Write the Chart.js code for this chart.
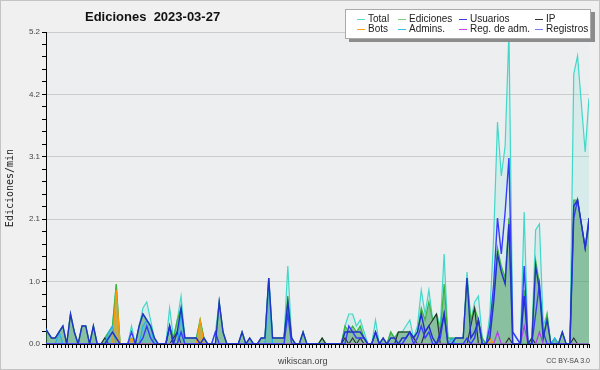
<!DOCTYPE html>
<html>
<head>
<meta charset="utf-8">
<script src="https://cdn.jsdelivr.net/npm/chart.js@4.4.0/dist/chart.umd.min.js"></script>
<style>
  html, body { margin: 0; padding: 0; background: #f0f0f0; }
  #wrap { position: relative; width: 600px; height: 370px; background: #f0f0f0; font-family: 'Liberation Sans', Arial, sans-serif; }
  #wrap canvas { position: absolute; left: 0; top: 0; }
  #marco { position: absolute; left: 0; top: 0; width: 598px; height: 368px; border: 1px solid #c4c4c4; pointer-events: none; }
  #titulo { position: absolute; left: 85px; top: 10px; font: bold 13px/13px 'Liberation Sans', Arial, sans-serif; color: #111; white-space: pre; }
  #leyenda { position: absolute; left: 345px; top: 9px; width: 244px; height: 28px; background: #fff; border: 1px solid #aaa; box-shadow: 4px 3px 0 #8c8c8c; }
  .item { position: absolute; font-size: 10px; line-height: 10px; color: #222; white-space: nowrap; }
  .item i { position: absolute; left: -11px; top: 5px; width: 8px; height: 1px; }
  #web { position: absolute; left: 278px; top: 356px; font-size: 9px; line-height: 10px; color: #444; }
  #cc { position: absolute; right: 10px; top: 357px; font-size: 7px; line-height: 8px; color: #444; }
</style>
</head>
<body>
<div id="wrap">
  <canvas id="grafico" width="600" height="370"></canvas>
  <div id="titulo">Ediciones  2023-03-27</div>
  <div id="leyenda"></div>
  <div id="web">wikiscan.org</div>
  <div id="cc">CC BY-SA 3.0</div>
  <div id="marco"></div>
</div>
<script>
// Ediciones por minuto, tramos de 10 minutos (una fila por hora)
const total = [
  0.3,0.3,0.2,0.1,0.1,0.2,  0.3,0,0.5,0.2,0,0.3,  0.3,0,0.3,0,0,0.1,  0.2,0.3,1.0,0,0,0,
  0.3,0,0.3,0.6,0.7,0.4,  0.1,0,0,0,0.6,0.1,  0.4,0.8,0.1,0.1,0.1,0.1,  0.4,0.1,0,0,0.2,0.7,
  0.2,0,0,0,0,0.2,  0,0.1,0,0,0.1,0.1,  1.1,0.1,0.1,0.1,0.1,1.3,  0.1,0,0,0.2,0,0,
  0,0,0.1,0,0,0,  0,0,0.3,0.5,0.5,0.3,  0.4,0.2,0,0,0.4,0,  0.1,0,0.2,0.1,0.2,0.2,
  0.3,0.4,0.1,0.3,0.9,0.5,  0.9,0.4,0.5,0.3,1.5,0.1,  0.1,0.1,0.1,0.1,1.2,0.4,  0.7,0.8,0.1,0,0.5,1.8,
  3.7,2.8,3.3,5.2,0.2,0.1,  0,2.2,0,0.1,1.9,2.0,  0.3,0.5,0,0.1,0,0.2,  0,0,4.5,4.8,4.0,3.2,
  4.1
];
const ediciones = [
  0.3,0.3,0.2,0.1,0.1,0.2,  0.3,0,0.5,0.2,0,0.3,  0.3,0,0.3,0,0,0.1,  0.2,0.3,1.0,0,0,0,
  0.1,0,0.3,0.5,0.4,0.3,  0.1,0,0,0,0.3,0.1,  0.4,0.6,0.1,0.1,0.1,0.1,  0.4,0.1,0,0,0,0.7,
  0.2,0,0,0,0,0.2,  0,0.1,0,0,0.1,0.1,  1.1,0.1,0.1,0.1,0.1,0.8,  0.1,0,0,0.2,0,0,
  0,0,0.1,0,0,0,  0,0,0.3,0.2,0.3,0.2,  0.3,0.1,0,0,0.2,0,  0.1,0,0.2,0.1,0.2,0.2,
  0.2,0.2,0.1,0.2,0.6,0.4,  0.7,0.4,0.5,0.2,1.0,0.1,  0.1,0.1,0.1,0.1,1.1,0.4,  0.6,0.4,0.1,0,0.2,0.8,
  1.6,1.3,1.1,2.1,0,0,  0,0.9,0,0.1,1.4,1.0,  0.1,0.5,0,0.1,0,0.2,  0,0,2.4,2.4,2.0,1.6,
  2.1
];
const usuarios = [
  0.3,0.3,0.2,0.1,0.1,0.2,  0.3,0,0.5,0.2,0,0.3,  0.3,0,0.3,0,0,0,  0.1,0.2,0.1,0,0,0,
  0,0,0.3,0.5,0.4,0.3,  0.1,0,0,0,0.3,0,  0.2,0.6,0.1,0.1,0.1,0.1,  0,0.1,0,0,0,0.7,
  0.2,0,0,0,0,0.2,  0,0.1,0,0,0.1,0.1,  1.1,0.1,0.1,0.1,0.1,0.7,  0.1,0,0,0.2,0,0,
  0,0,0,0,0,0,  0,0,0.2,0.2,0.2,0.2,  0.2,0.1,0,0,0.2,0,  0.1,0,0.1,0.1,0,0.1,
  0.1,0.2,0.1,0.2,0.5,0.2,  0.3,0.1,0,0.2,0.5,0,  0,0.1,0.1,0.1,1.1,0.1,  0.2,0.4,0,0,0.1,0.7,
  1.5,1.2,1.0,2.0,0,0,  0,0.8,0,0,1.3,0.9,  0.1,0.4,0,0,0,0.2,  0,0,2.3,2.4,2.0,1.6,
  2.1
];
const ip = [
  0,0,0,0,0,0,  0,0,0,0,0,0,  0,0,0,0,0,0.1,  0,0,0,0,0,0,
  0,0,0,0,0,0,  0,0,0,0,0,0.1,  0.2,0,0,0,0,0,  0,0,0,0,0,0,
  0,0,0,0,0,0,  0,0,0,0,0,0,  0,0,0,0,0,0,  0,0,0,0,0,0,
  0,0,0.1,0,0,0,  0,0,0.1,0,0.1,0,  0.1,0,0,0,0,0,  0,0,0,0,0.2,0.2,
  0.2,0.2,0.1,0,0,0.2,  0.3,0.4,0.5,0,0,0,  0,0,0,0,0,0.3,  0.6,0,0,0,0,0,
  0,0,0,0.1,0,0,  0,0,0,0.1,0,0,  0,0,0,0,0,0,  0,0,0.1,0,0,0,
  0
];
const bots = [
  0,0,0,0,0,0,  0,0,0,0,0,0,  0,0,0,0,0,0,  0,0,0.9,0,0,0,
  0.1,0,0,0,0,0,  0,0,0,0,0,0,  0,0,0,0,0,0,  0.4,0,0,0,0,0,
  0,0,0,0,0,0,  0,0,0,0,0,0,  0,0,0,0,0,0,  0,0,0,0,0,0,
  0,0,0,0,0,0,  0,0,0,0,0,0,  0,0,0,0,0,0,  0,0,0,0,0,0,
  0,0,0,0,0,0,  0,0,0,0,0,0,  0,0,0,0,0,0,  0,0,0,0,0.1,0,
  0,0,0,0,0,0,  0,0,0,0,0,0,  0,0,0,0,0,0,  0,0,0,0,0,0,
  0
];
const admins = [
  0,0,0,0,0,0.2,  0,0,0,0,0,0,  0,0,0,0,0,0,  0.2,0.3,0,0,0,0,
  0,0,0,0.3,0.4,0.3,  0,0,0,0,0,0,  0,0.5,0,0,0,0,  0,0,0,0,0,0,
  0,0,0,0,0,0,  0,0,0,0,0,0,  1.0,0,0,0,0,0,  0,0,0,0,0,0,
  0,0,0,0,0,0,  0,0,0,0,0,0,  0,0,0,0,0,0,  0,0,0,0,0,0,
  0,0,0,0,0,0,  0,0,0,0,0,0,  0.1,0,0,0,0,0,  0,0,0,0,0,0,
  0,0,0,0,0,0,  0,0,0,0,0,0,  0,0,0,0.1,0,0,  0,0,0,0,0,0,
  0
];
const regAdm = [
  0,0,0,0,0,0,  0,0,0,0,0,0,  0,0,0,0,0,0,  0,0,0,0,0,0,
  0,0,0,0,0,0,  0,0,0,0,0,0,  0,0,0,0,0,0,  0,0,0,0,0,0,
  0,0,0,0,0,0,  0,0,0,0,0,0,  0,0,0,0,0,0,  0,0,0,0,0,0,
  0,0,0,0,0,0,  0,0,0,0,0,0,  0,0,0,0,0,0,  0,0,0,0,0,0,
  0,0,0,0,0,0,  0,0,0,0,0,0,  0,0,0,0,0,0,  0,0,0,0,0,0,
  0.2,0,0,0,0,0,  0,0.3,0,0,0,0.2,  0,0,0,0,0,0,  0,0,0,0,0,0,
  0
];
const registros = [
  0,0,0,0,0,0,  0,0,0,0,0,0,  0,0,0,0,0,0,  0,0,0,0,0,0,
  0.2,0,0,0.1,0.3,0.1,  0,0,0,0,0.3,0,  0,0.2,0,0,0,0,  0,0,0,0,0.2,0,
  0,0,0,0,0,0,  0,0,0,0,0,0,  0,0,0,0,0,0.5,  0,0,0,0,0,0,
  0,0,0,0,0,0,  0,0,0,0.3,0.2,0.1,  0.1,0.1,0,0,0.2,0,  0,0,0,0,0,0,
  0.1,0.2,0,0.1,0.3,0.1,  0.2,0,0,0.1,0.5,0,  0,0,0,0,0.1,0,  0.1,0.4,0,0,0.3,1.0,
  2.1,1.5,2.2,3.1,0.2,0.1,  0,1.3,0,0,0.5,1.0,  0.2,0,0,0,0,0,  0,0,2.1,2.4,2.0,1.6,
  2.0
];

const leyenda = [
  ['Total', '#5ad8cc'], ['Ediciones', '#7ccc7c'], ['Usuarios', '#3c3ce6'], ['IP', '#333333'],
  ['Bots', '#ffa31a'], ['Admins.', '#2cc4e4'], ['Reg. de adm.', '#d040e8'], ['Registros', '#7a7aff']
];
const columnas = [22, 63, 124, 200];

const caja = document.getElementById('leyenda');
leyenda.forEach(function (l, k) {
  const d = document.createElement('div');
  d.className = 'item';
  d.style.left = columnas[k % 4] + 'px';
  d.style.top = (k < 4 ? 4 : 14) + 'px';
  d.innerHTML = '<i style="background:' + l[1] + '"></i>' + l[0];
  caja.appendChild(d);
});

function serie(valores) {
  return valores.map(function (v, i) { return { x: i, y: v }; });
}

function linea(nombre, valores, color, relleno, ancho) {
  return {
    label: nombre,
    data: serie(valores),
    borderColor: color,
    borderWidth: ancho || 1.4,
    backgroundColor: relleno || 'transparent',
    fill: relleno ? 'origin' : false,
    pointRadius: 0,
    tension: 0
  };
}

const fondoPlot = {
  id: 'fondoPlot',
  beforeDraw(chart) {
    const a = chart.chartArea;
    const ctx = chart.ctx;
    ctx.save();
    ctx.fillStyle = '#eceef0';
    ctx.fillRect(a.left, a.top, a.right - a.left, a.bottom - a.top);
    ctx.restore();
  }
};

Chart.defaults.font.family = "'Liberation Sans', Arial, sans-serif";

const ctx = document.getElementById('grafico').getContext('2d');
new Chart(ctx, {
  type: 'line',
  data: {
    datasets: [
      linea('Usuarios', usuarios, '#2232c8', null, 1.4),
      linea('Registros', registros, '#3a3aff', null, 1.4),
      linea('Reg. de adm.', regAdm, '#b43cf0', null, 1.2),
      linea('Admins.', admins, '#22b4e6', 'rgba(34,180,230,0.22)', 1.2),
      linea('Bots', bots, '#ff9900', 'rgba(255,153,0,0.5)', 1.2),
      linea('IP', ip, '#2b2b2b', null, 1.1),
      linea('Ediciones', ediciones, '#3cb43c', 'rgba(57,149,85,0.5)', 1.2),
      linea('Total', total, '#40d8c8', 'rgba(64,216,200,0.12)', 1.2)
    ]
  },
  options: {
    responsive: false,
    animation: false,
    layout: { padding: { top: 32, right: 11, left: 0, bottom: 0 } },
    plugins: {
      legend: { display: false },
      tooltip: { enabled: false }
    },
    scales: {
      x: {
        type: 'linear',
        bounds: 'data',
        min: 1.57,
        max: 144,
        afterFit: function (s) { s.height = 26; },
        border: { color: '#000', width: 1 },
        grid: { drawOnChartArea: false, color: '#000', tickLength: 4 },
        ticks: {
          stepSize: 1,
          includeBounds: false,
          autoSkip: false,
          maxRotation: 0,
          padding: 0,
          color: '#333',
          font: { size: 8 },
          callback: function (v) {
            return (v % 6 === 0 && v < 144) ? (v / 6) + ' h' : '';
          }
        }
      },
      y: {
        min: 0,
        max: 5.2,
        afterFit: function (s) { s.width = 46; },
        border: { color: '#000', width: 1 },
        grid: {
          color: function (c) { return c.index % 5 === 0 && c.index > 0 ? '#cccccc' : 'rgba(0,0,0,0)'; },
          tickColor: '#000',
          tickLength: 4
        },
        ticks: {
          stepSize: 0.208,
          autoSkip: false,
          padding: 2,
          color: '#444',
          font: { size: 8 },
          callback: function (v, i) { return i % 5 === 0 ? v.toFixed(1) : ''; }
        },
        title: {
          display: true,
          text: 'Ediciones/min',
          color: '#222',
          font: { family: "'DejaVu Sans Mono', monospace", size: 10 },
          padding: { top: 4, bottom: 0 }
        }
      }
    }
  },
  plugins: [fondoPlot]
});
</script>
</body>
</html>
